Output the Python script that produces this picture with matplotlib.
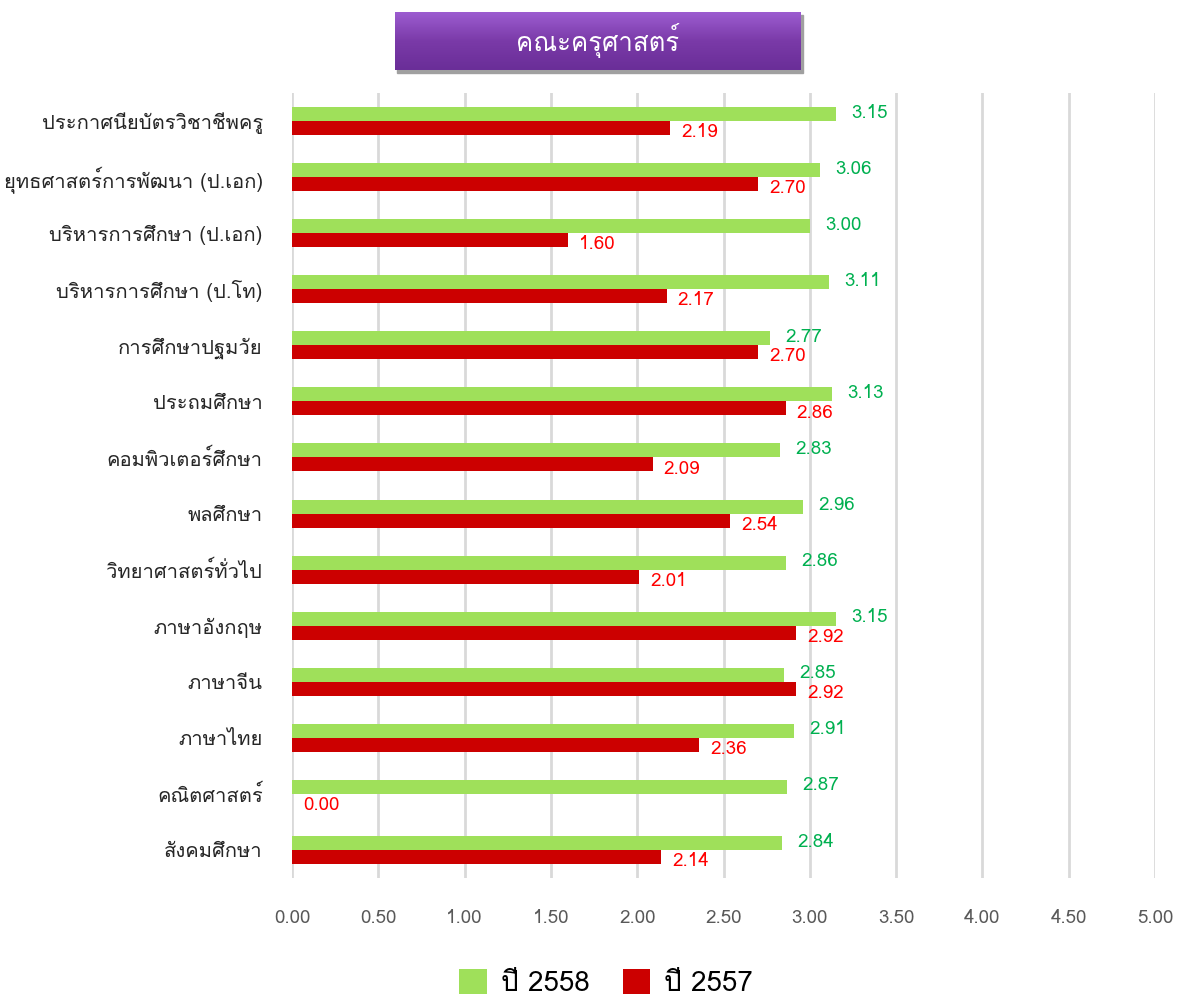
import numpy as np
import matplotlib
matplotlib.use("Agg")
import matplotlib.pyplot as plt
from matplotlib import font_manager, ft2font
from matplotlib.patches import Rectangle

# ----------------------------------
# Data
# ----------------------------------
TITLE = "คณะครุศาสตร์"
CATEGORIES = [
    "ประกาศนียบัตรวิชาชีพครู",
    "ยุทธศาสตร์การพัฒนา (ป.เอก)",
    "บริหารการศึกษา (ป.เอก)",
    "บริหารการศึกษา (ป.โท)",
    "การศึกษาปฐมวัย",
    "ประถมศึกษา",
    "คอมพิวเตอร์ศึกษา",
    "พลศึกษา",
    "วิทยาศาสตร์ทั่วไป",
    "ภาษาอังกฤษ",
    "ภาษาจีน",
    "ภาษาไทย",
    "คณิตศาสตร์",
    "สังคมศึกษา",
]
VALUES_2558 = [3.15, 3.06, 3.00, 3.11, 2.77, 3.13, 2.83, 2.96, 2.86, 3.15, 2.85, 2.91, 2.87, 2.84]
VALUES_2557 = [2.19, 2.70, 1.60, 2.17, 2.70, 2.86, 2.09, 2.54, 2.01, 2.92, 2.92, 2.36, 0.00, 2.14]
SERIES_NAMES = ["ปี 2558", "ปี 2557"]
X_TICKS = [0.0, 0.5, 1.0, 1.5, 2.0, 2.5, 3.0, 3.5, 4.0, 4.5, 5.0]

GREEN = "#9fe05a"
RED = "#cc0000"
GREEN_TXT = "#00b050"
RED_TXT = "#ff0000"


# ----------------------------------
# Font with Thai glyphs
# ----------------------------------
def find_thai_font():
    found = []
    for f in font_manager.fontManager.ttflist:
        try:
            cm = ft2font.FT2Font(f.fname).get_charmap()
        except Exception:
            continue
        if 0x0E01 in cm and 0x0E35 in cm:
            found.append(f)
    for f in found:
        if f.weight in (400, "normal", "regular") and f.style == "normal":
            return f.name
    if found:
        return found[0].name
    return None


thai = find_thai_font()
families = ([thai] if thai else []) + ["DejaVu Sans"]
plt.rcParams["font.family"] = families

fig = plt.figure(figsize=(11.83, 9.97), dpi=100)
W, H = 1183, 997
ax = fig.add_axes([292 / W, 1 - 878 / H, (1155 - 292) / W, (878 - 93) / H])

y = np.arange(len(CATEGORIES))
bh = 0.25
ax.barh(y - bh / 2, VALUES_2558, height=bh, color=GREEN, linewidth=0,
        zorder=3, label=SERIES_NAMES[0])
ax.barh(y + bh / 2, VALUES_2557, height=bh, color=RED, linewidth=0,
        zorder=3, label=SERIES_NAMES[1])

for yi, v in zip(y, VALUES_2558):
    ax.annotate(f"{v:.2f}", (v, yi - bh / 2), xytext=(11, 1), textcoords="offset points",
                color=GREEN_TXT, fontsize=13.5, va="center", ha="left")
for yi, v in zip(y, VALUES_2557):
    ax.annotate(f"{v:.2f}", (v, yi + bh / 2), xytext=(8, -3), textcoords="offset points",
                color=RED_TXT, fontsize=13.5, va="center", ha="left")

ax.set_xlim(0, 5)
ax.set_ylim(len(CATEGORIES) - 0.5, -0.5)
ax.set_xticks(X_TICKS)
ax.set_xticklabels([f"{t:.2f}" for t in X_TICKS])
ax.set_yticks(y)
ax.set_yticklabels(CATEGORIES)
ax.tick_params(axis="x", length=0, pad=22, labelsize=13.5, labelcolor="#595959")
ax.tick_params(axis="y", length=0, pad=21, labelsize=14.5, labelcolor="#262626")
ax.grid(axis="x", color="#d9d9d9", linewidth=2, zorder=0)
for s in ax.spines.values():
    s.set_visible(False)

# title box with a vertical purple gradient
tax = fig.add_axes([395 / W, 1 - 70 / H, (801 - 395) / W, (70 - 12) / H])
grad = np.linspace(0, 1, 64).reshape(-1, 1)
cmap = matplotlib.colors.LinearSegmentedColormap.from_list("p", ["#9c5cd0", "#7a3aa8", "#6a2e98"])
tax.imshow(grad, aspect="auto", cmap=cmap, extent=[0, 1, 0, 1], origin="upper")
tax.set_xlim(0, 1)
tax.set_ylim(0, 1)
tax.axis("off")
tax.text(0.5, 0.5, TITLE, color="white", fontsize=18.5, ha="center", va="center")
shadow = Rectangle((397 / W, 1 - 73 / H), (801 - 395) / W, (70 - 12) / H,
                   transform=fig.transFigure, color="#a0a0a0", zorder=-1)
fig.patches.append(shadow)

leg = fig.legend(loc="center", bbox_to_anchor=(606 / W, 1 - 983 / H), ncol=2, frameon=False,
                 fontsize=20, handlelength=1.0, handleheight=1.0, columnspacing=1.2,
                 handletextpad=0.5)

fig.savefig("out.png", dpi=100)
